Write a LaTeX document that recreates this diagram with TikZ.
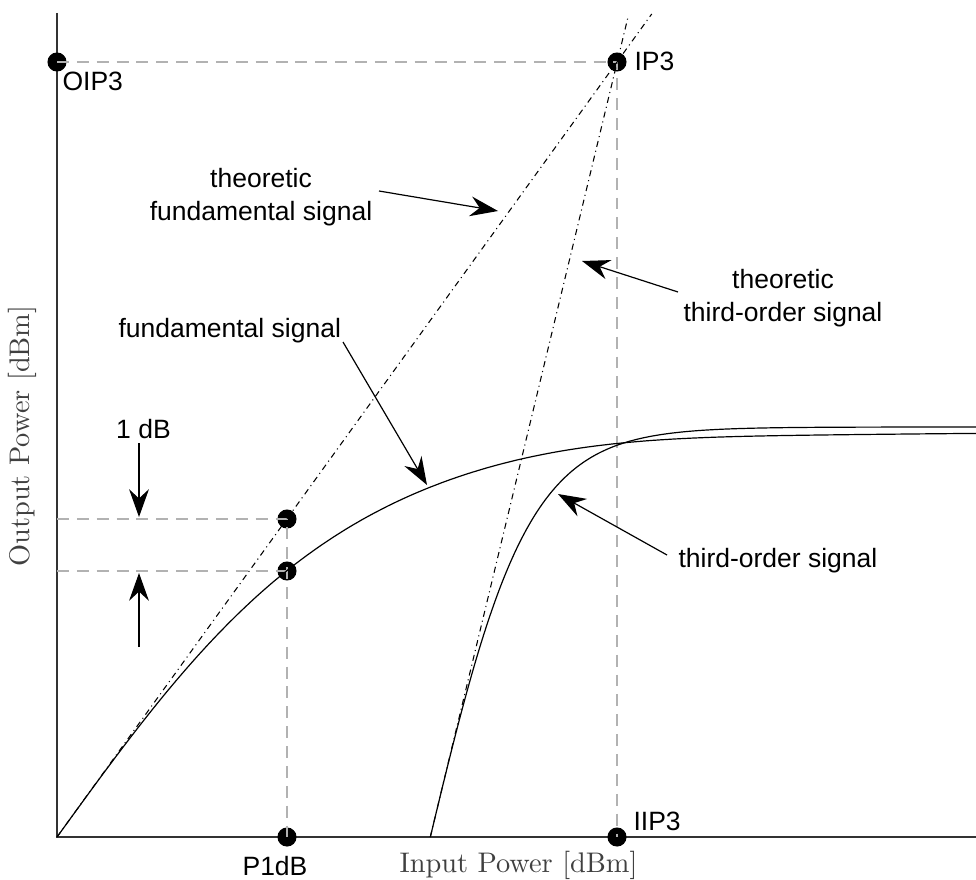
\documentclass[tikz,border=0pt]{standalone}
\usepackage{fontspec}
\newfontfamily\lblfont{Liberation Sans}
\usetikzlibrary{arrows.meta}

\begin{document}
\begin{tikzpicture}[x=0.3774pt,y=-0.3774pt,
  axisline/.style={draw=black!80, line width=0.6pt},
  guide/.style={draw=black!30, line width=0.5pt, dash pattern=on 4.5pt off 3pt},
  theo/.style={draw=black, line width=0.4pt, dash pattern=on 2.3pt off 1.5pt on 0.4pt off 1.5pt},
  curve/.style={draw=black, line width=0.45pt},
  dot/.style={circle, fill=black, inner sep=0pt, minimum size=7.2pt},
  lbl/.style={font=\lblfont\fontsize{10}{12.5}\selectfont, align=center, inner sep=0pt},
  axlbl/.style={font=\fontsize{10.7}{13}\selectfont, text=black!75, inner sep=0pt},
  callout/.style={-{Stealth[length=10.5pt,width=7.5pt,inset=3.5pt]}, line width=0.45pt},
]
\useasboundingbox (0,0) rectangle (976,879);

% axes
\coordinate (O) at (57,837);
\coordinate (ytop) at (57,13);
\coordinate (xend) at (976,837);
\draw[axisline] (ytop) -- (O) -- (xend);

% marked points
\node[dot] (oip3) at (57,62) {};
\node[dot] (ip3) at (617,62) {};
\node[dot] (iip3) at (617,837) {};
\node[dot] (p1db) at (287,837) {};
\node[dot] (lin1) at (287,519) {};
\node[dot] (cmp1) at (287,571) {};
\coordinate (ylin) at (57,519);
\coordinate (ycmp) at (57,571);

% guide lines
\draw[guide] (oip3.center) -- (ip3.center) -- (iip3.center);
\draw[guide] (ylin) -- (lin1.center) -- (p1db.center);
\draw[guide] (ycmp) -- (cmp1.center);

% theoretic lines
\coordinate (fEnd) at (651.7,14);
\coordinate (tStart) at (430.3,837);
\coordinate (tEnd) at (628.5,15);
\draw[theo] (O) -- (fEnd);
\draw[theo] (tStart) -- (tEnd);

% measured signals (compression curves)
\draw[curve] plot[domain=57:976, samples=240]
  (\x, {837-405*tanh(1.384*(\x-57)/405)-6*exp(-((\x-577)/200)^2)});
\draw[curve] plot[domain=430.3:976, samples=240]
  (\x, {837-410*tanh(4.152*(\x-430.3)/410)});

% point labels
\node[lbl, anchor=base west] (toip3) at (62,91) {OIP3};
\node[lbl, anchor=base west] (tip3) at (634,71) {IP3};
\node[lbl, anchor=base west] (tiip3) at (633,830) {IIP3};
\node[lbl, anchor=base] (tp1db) at (275,875) {P1dB};

% axis labels
\node[axlbl, anchor=base] (xlab) at (518.5,872) {Input Power [dBm]};
\node[axlbl, rotate=90] (ylab) at (22,436) {Output Power [dBm]};

% 1 dB marker
\node[lbl, anchor=base] (tdb) at (143.5,438) {1 dB};
\coordinate (dbA0) at (139,443);
\coordinate (dbA1) at (139,517);
\coordinate (dbB0) at (139,647);
\coordinate (dbB1) at (139,573);
\draw[callout] (dbA0) -- (dbA1);
\draw[callout] (dbB0) -- (dbB1);

% callouts
\node[lbl, anchor=north] (tthf) at (261,168) {theoretic\\fundamental signal};
\node[lbl, anchor=north] (ttht) at (783,269) {theoretic\\third-order signal};
\node[lbl, anchor=base west] (tfund) at (118,337) {fundamental signal};
\node[lbl, anchor=base west] (tthird) at (678,567) {third-order signal};

\coordinate (c1a) at (379,191);
\coordinate (c1b) at (498,211);
\coordinate (c2a) at (678,292);
\coordinate (c2b) at (582,261);
\coordinate (c3a) at (343,342);
\coordinate (c3b) at (427,485);
\coordinate (c4a) at (667,555);
\coordinate (c4b) at (558,494);
\draw[callout] (c1a) -- (c1b);
\draw[callout] (c2a) -- (c2b);
\draw[callout] (c3a) -- (c3b);
\draw[callout] (c4a) -- (c4b);
\end{tikzpicture}
\end{document}
